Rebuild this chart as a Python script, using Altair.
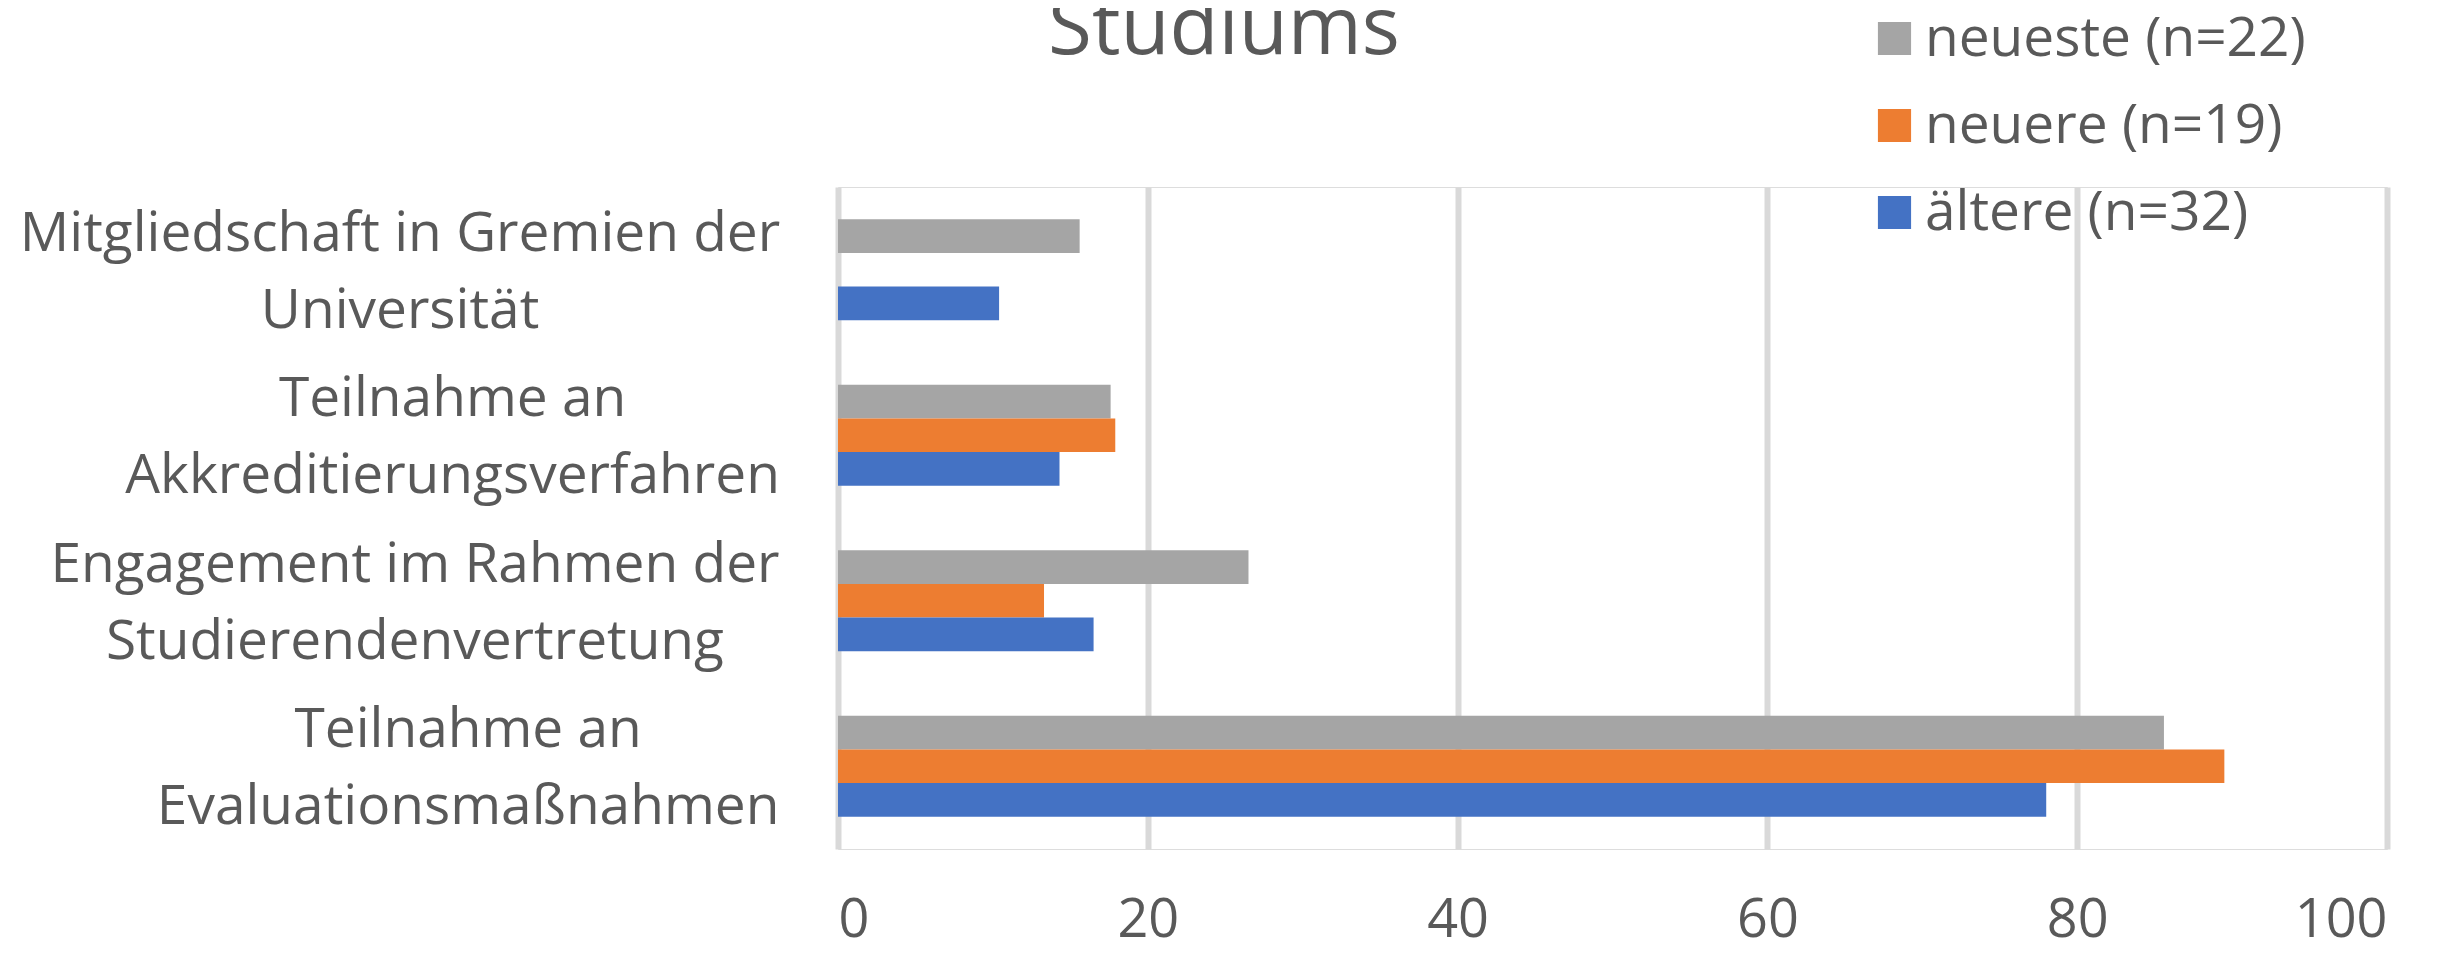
import altair as alt
import pandas as pd

# ---- data ----
categories = [
    "Mitgliedschaft in Gremien der\nUniversität",
    "Teilnahme an\nAkkreditierungsverfahren",
    "Engagement im Rahmen der\nStudierendenvertretung",
    "Teilnahme an\nEvaluationsmaßnahmen",
]
series = ["neueste (n=22)", "neuere (n=19)", "ältere (n=32)"]
neueste = [15.6, 17.6, 26.5, 85.6]
neuere = [0.0, 17.9, 13.3, 89.5]
aeltere = [10.4, 14.3, 16.5, 78.0]
colors = ["#A5A5A5", "#ED7D31", "#4472C4"]
x_ticks = [0, 20, 40, 60, 80, 100]
title_text = "Studiums"

FONT = "Open Sans"
TEXT_COLOR = "#595959"
FS = 55
PLOT_W = 1549
PLOT_H = 662

# approximate Open Sans advance widths (em) used to centre the label lines
W = {" ": .260, "a": .556, "c": .476, "d": .613, "e": .561, "f": .336, "g": .546,
     "h": .613, "i": .258, "k": .525, "l": .258, "m": .930, "n": .613, "o": .602,
     "r": .408, "s": .477, "t": .352, "u": .613, "v": .500, "ä": .556, "ß": .628,
     "A": .632, "E": .555, "G": .693, "M": .904, "R": .618, "S": .532, "T": .536,
     "U": .720}


def text_width(s):
    return sum(W.get(ch, .56) for ch in s) * FS


rows = []
for ci, cat in enumerate(categories):
    for s, vals in zip(series, [neueste, neuere, aeltere]):
        rows.append({"cat": cat, "series": s, "value": vals[ci]})
df = pd.DataFrame(rows)

GAP = 58
lab = pd.DataFrame({
    "cat": categories,
    "xpix": [-GAP - max(text_width(l) for l in c.split("\n")) / 2 for c in categories],
})

bars = alt.Chart(df).mark_bar().encode(
    x=alt.X("value:Q",
            scale=alt.Scale(domain=[0, 100], nice=False),
            axis=alt.Axis(values=x_ticks, grid=True, gridColor="#D9D9D9", gridWidth=6,
                          domain=False, ticks=False, labelFontSize=54, labelFont=FONT,
                          labelColor=TEXT_COLOR, labelPadding=44, title=None)),
    y=alt.Y("cat:N", sort=categories,
            scale=alt.Scale(paddingInner=0.39, paddingOuter=0.195), axis=None),
    yOffset=alt.YOffset("series:N", sort=series, scale=alt.Scale(paddingInner=0, paddingOuter=0)),
    color=alt.Color("series:N",
                    scale=alt.Scale(domain=series, range=colors),
                    legend=alt.Legend(title=None, orient="none", legendX=1029, legendY=-176,
                                      symbolType="square", symbolSize=1100,
                                      symbolStrokeWidth=0, symbolOpacity=1,
                                      labelFontSize=55, labelFont=FONT, labelLimit=1000,
                                      labelColor=TEXT_COLOR, labelOffset=3,
                                      rowPadding=31, padding=0)),
)

labels = alt.Chart(lab).mark_text(
    align="center", baseline="middle", lineBreak="\n", lineHeight=77,
    fontSize=FS, font=FONT, color=TEXT_COLOR, dy=-36,
).encode(
    x=alt.X("xpix:Q", scale=None, axis=None),
    y=alt.Y("cat:N", sort=categories, axis=None),
    text="cat:N",
)

# chart title (only its last line is visible in the reference, cut at the top)
title = alt.Chart(pd.DataFrame({"t": [title_text]})).mark_text(
    align="center", baseline="alphabetic", fontSize=80, font=FONT, color=TEXT_COLOR,
).encode(
    x=alt.value(386),
    y=alt.value(-133),
    text="t:N",
)

chart = alt.layer(bars, labels, title).properties(
    width=PLOT_W,
    height=PLOT_H,
    autosize="none",
    padding={"left": 830, "top": 179, "right": 30, "bottom": 96},
).configure_view(stroke=None).configure(background="white")

chart.save("out.html", embed_options={"renderer": "svg", "actions": False})
